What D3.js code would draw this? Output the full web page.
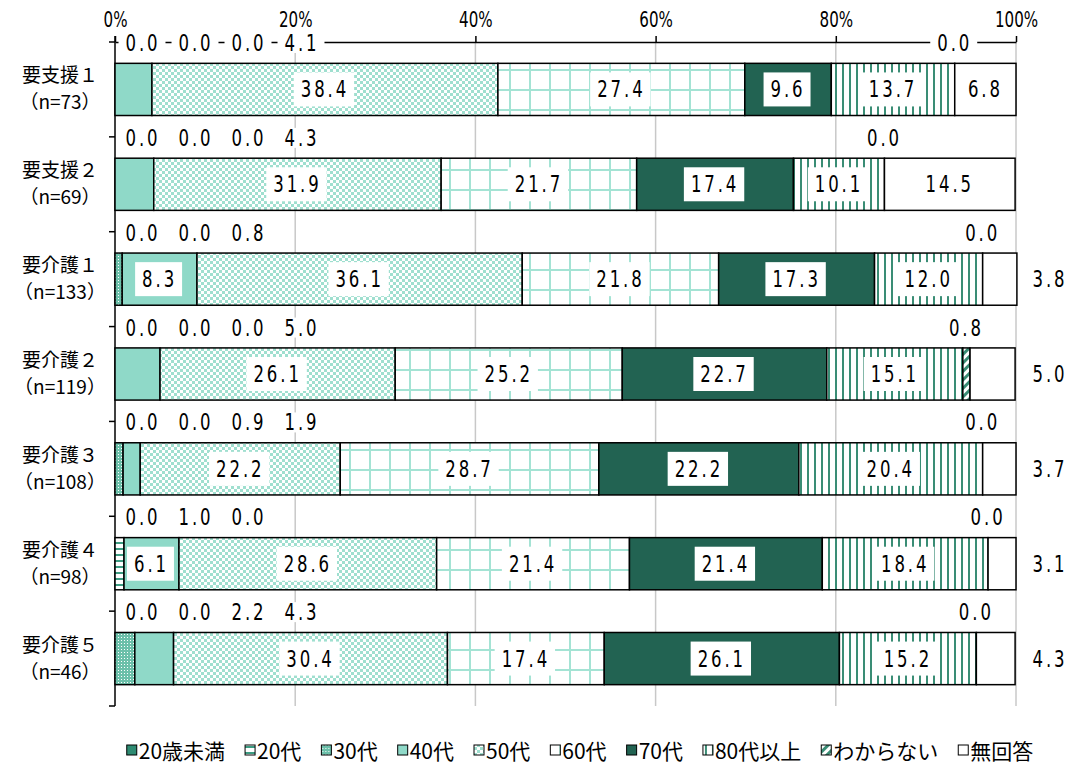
<!DOCTYPE html>
<html><head><meta charset="utf-8">
<script src="https://cdn.jsdelivr.net/npm/d3@7"></script>
<style>
body{margin:0;background:#fff;}
svg{display:block;}
</style></head>
<body>
<svg id="chart" width="1068" height="765"></svg>
<script>
const categories = ["要支援１","要支援２","要介護１","要介護２","要介護３","要介護４","要介護５"];
const sampleSizes = ["（n=73）","（n=69）","（n=133）","（n=119）","（n=108）","（n=98）","（n=46）"];
const seriesNames = ["20歳未満","20代","30代","40代","50代","60代","70代","80代以上","わからない","無回答"];
const under20  = [0.0,0.0,0.0,0.0,0.0,0.0,0.0];
const age20s   = [0.0,0.0,0.0,0.0,0.0,1.0,0.0];
const age30s   = [0.0,0.0,0.8,0.0,0.9,0.0,2.2];
const age40s   = [4.1,4.3,8.3,5.0,1.9,6.1,4.3];
const age50s   = [38.4,31.9,36.1,26.1,22.2,28.6,30.4];
const age60s   = [27.4,21.7,21.8,25.2,28.7,21.4,17.4];
const age70s   = [9.6,17.4,17.3,22.7,22.2,21.4,26.1];
const age80s   = [13.7,10.1,12.0,15.1,20.4,18.4,15.2];
const unknown  = [0.0,0.0,0.0,0.8,0.0,0.0,0.0];
const noAnswer = [6.8,14.5,3.8,5.0,3.7,3.1,4.3];
const xTicks = [0,20,40,60,80,100];

const seriesValues = [under20,age20s,age30s,age40s,age50s,age60s,age70s,age80s,unknown,noAnswer];
const fills = ["#2e8b72","url(#p20)","url(#p30)","#8fd9c8","url(#p50)","url(#p60)","#226352","url(#p80)","url(#pUnk)","#ffffff"];

const NUM_FONT = "'DejaVu Sans',sans-serif";
const JP_FONT = "'Noto Sans CJK JP',sans-serif";
const SX = 0.72;

const svg = d3.select("#chart");
const defs = svg.append("defs");
let p = defs.append("pattern").attr("id","p20").attr("patternUnits","userSpaceOnUse").attr("width",6).attr("height",6);
p.append("rect").attr("width",6).attr("height",6).attr("fill","#fff");
p.append("rect").attr("y",2).attr("width",6).attr("height",2).attr("fill","#3c9c82");
p = defs.append("pattern").attr("id","p30").attr("patternUnits","userSpaceOnUse").attr("width",3).attr("height",3);
p.append("rect").attr("width",3).attr("height",3).attr("fill","#6cc0aa");
p.append("rect").attr("x",1).attr("y",1).attr("width",1).attr("height",1).attr("fill","#fff");
p = defs.append("pattern").attr("id","p50").attr("patternUnits","userSpaceOnUse").attr("width",6).attr("height",6);
p.append("rect").attr("width",6).attr("height",6).attr("fill","#9fdfcf");
p.append("rect").attr("width",3).attr("height",3).attr("fill","#fff");
p.append("rect").attr("x",3).attr("y",3).attr("width",3).attr("height",3).attr("fill","#fff");
p = defs.append("pattern").attr("id","p60").attr("patternUnits","userSpaceOnUse").attr("width",20).attr("height",20);
p.append("rect").attr("width",20).attr("height",20).attr("fill","#fff");
p.append("rect").attr("x",9).attr("width",2).attr("height",20).attr("fill","#a4e3d4");
p.append("rect").attr("y",9).attr("width",20).attr("height",2).attr("fill","#a4e3d4");
p = defs.append("pattern").attr("id","p80").attr("patternUnits","userSpaceOnUse").attr("width",7).attr("height",7);
p.append("rect").attr("width",7).attr("height",7).attr("fill","#fff");
p.append("rect").attr("x",2).attr("width",2).attr("height",7).attr("fill","#3a8d75");
p = defs.append("pattern").attr("id","pUnk").attr("patternUnits","userSpaceOnUse").attr("width",6).attr("height",6).attr("patternTransform","rotate(45)");
p.append("rect").attr("width",6).attr("height",6).attr("fill","#fff");
p.append("rect").attr("width",3).attr("height",6).attr("fill","#3a8d75");

const x = d3.scaleLinear().domain([0,100]).range([115,1016]);
const y = d3.scaleBand().domain(categories).range([42,706]).paddingInner(0.45).paddingOuter(0.225);
const step = y.step(), bw = y.bandwidth();
const gap = (step - bw) / 2;

// gridlines
svg.append("g").selectAll("line").data(xTicks.filter(t=>t>0)).join("line")
  .attr("x1",d=>x(d)).attr("x2",d=>x(d)).attr("y1",42).attr("y2",706)
  .attr("stroke","#c8c8c8").attr("stroke-width",1.5);

// top axis
const axis = svg.append("g").attr("transform","translate(0,42)")
  .call(d3.axisTop(x).tickValues(xTicks).tickFormat(d=>d+"%").tickSize(6).tickSizeOuter(0));
axis.select(".domain").attr("stroke","#000").attr("stroke-width",1.5);
axis.selectAll(".tick line").attr("stroke","#000").attr("stroke-width",1.5);
axis.selectAll(".tick text").attr("font-family",NUM_FONT).attr("font-size",21).attr("fill","#000")
  .attr("y",-15).attr("dy",0).attr("transform",`scale(${SX},1)`);

// y axis line + ticks
svg.append("line").attr("x1",115).attr("x2",115).attr("y1",36).attr("y2",706).attr("stroke","#000").attr("stroke-width",1.5);
svg.append("g").selectAll("line").data(d3.range(0,categories.length+1)).join("line")
  .attr("x1",109).attr("x2",115).attr("y1",i=>42+i*step).attr("y2",i=>42+i*step)
  .attr("stroke","#000").attr("stroke-width",1.5);

// stacked segments
const segs = [];
categories.forEach((c,ci)=>{
  let cum = 0;
  seriesValues.forEach((arr,si)=>{
    const v = arr[ci];
    segs.push({c,ci,si,v,x0:cum,x1:cum+v});
    cum += v;
  });
});
svg.append("g").selectAll("rect").data(segs.filter(d=>d.v>0)).join("rect")
  .attr("x",d=>x(d.x0)).attr("width",d=>x(d.x1)-x(d.x0))
  .attr("y",d=>y(d.c)).attr("height",bw)
  .attr("fill",d=>fills[d.si]).attr("stroke","#000").attr("stroke-width",1.5);

// labels
const labelG = svg.append("g");
function addLabel(tx,ty,text,box,boxH){
  const g = labelG.append("g").attr("transform",`translate(${tx},${ty})`);
  const t = g.append("text").attr("x",0).attr("y",0).attr("text-anchor","middle").attr("dominant-baseline","central")
    .attr("font-family",NUM_FONT).attr("font-size",23).attr("letter-spacing","4px").attr("fill","#000")
    .attr("transform",`scale(${SX},1)`).text(text);
  if(box){
    const bb = t.node().getBBox();
    const w = bb.width*SX;
    g.insert("rect","text").attr("x",-w/2-7).attr("y",-boxH/2).attr("width",w+12).attr("height",boxH).attr("fill","#fff");
  }
}
segs.forEach(d=>{
  const txt = d.v.toFixed(1);
  const top = y(d.c) - gap + 1;
  const mid = y(d.c) + bw/2;
  if(d.si<=3){
    if(d.v<6) addLabel(143 + d.si*53, top, txt, true, 20);
    else addLabel(x((d.x0+d.x1)/2), mid, txt, true, 34);
  } else if(d.si===8){
    addLabel(x((d.x0+d.x1)/2), top, txt, true, 20);
  } else if(d.si===9){
    if(d.v<6) addLabel(1050, mid, txt, false, 0);
    else addLabel(x((d.x0+d.x1)/2), mid, txt, true, 34);
  } else {
    addLabel(x((d.x0+d.x1)/2), mid, txt, true, 34);
  }
});

// category labels
categories.forEach((c,i)=>{
  const cy = y(c) + bw/2;
  svg.append("text").attr("x",60).attr("y",cy-7).attr("text-anchor","middle")
    .attr("font-family",JP_FONT).attr("font-size",19).attr("fill","#000").text(c);
  svg.append("text").attr("x",60).attr("y",cy+20).attr("text-anchor","middle")
    .attr("font-family",JP_FONT).attr("font-size",19).attr("fill","#000").text(sampleSizes[i]);
});

// legend
const lg = svg.append("g");
let lx = 0;
seriesNames.forEach((n,i)=>{
  const g = lg.append("g").attr("transform",`translate(${lx},0)`);
  g.append("rect").attr("x",0).attr("y",-5).attr("width",10).attr("height",10).attr("fill",fills[i]).attr("stroke","#000").attr("stroke-width",1);
  const t = g.append("text").attr("x",12).attr("y",0).attr("dominant-baseline","central")
    .attr("font-family",JP_FONT).attr("font-size",21).attr("fill","#000").text(n);
  lx += 12 + t.node().getComputedTextLength() + 20;
});
const total = lx - 20;
lg.attr("transform",`translate(${580 - total/2},750)`);
</script>
</body></html>
